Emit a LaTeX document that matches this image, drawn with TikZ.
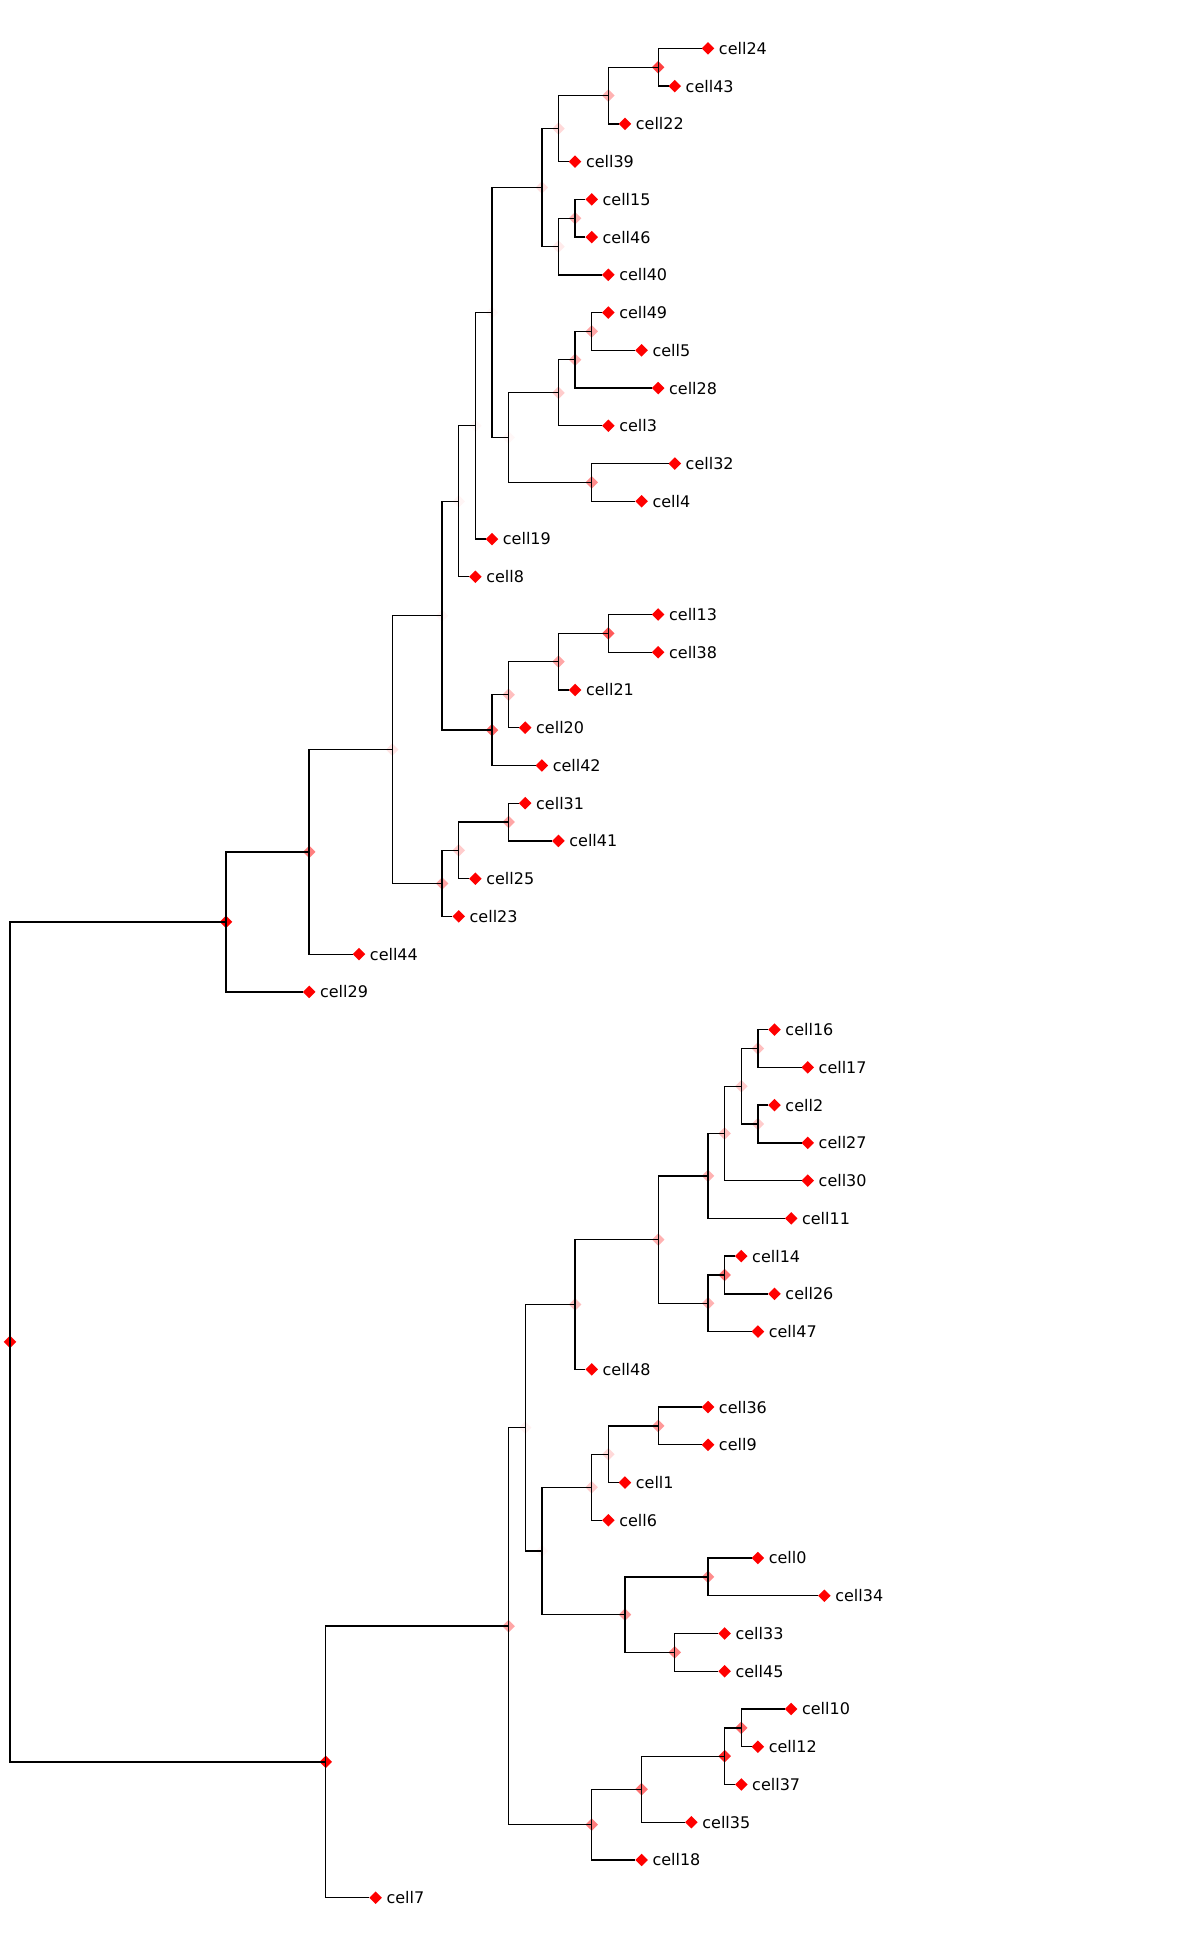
\documentclass[tikz,border=0pt]{standalone}
\usepackage{fontspec}
\setmainfont{DejaVu Sans}
\usetikzlibrary{shapes.geometric}
\tikzstyle{lf}=[diamond,fill=red,draw=none,inner sep=0pt,outer sep=0pt,
  minimum width=9.4pt,minimum height=9.4pt]
\tikzstyle{br}=[diamond,fill=red,draw=none,inner sep=0pt,outer sep=0pt,
  minimum width=9.4pt,minimum height=9.4pt]
\tikzstyle{edge}=[black,line width=1pt]
\begin{document}
\begin{tikzpicture}[x=12.465pt,y=-28.305pt,
    every label/.style={font=\fontsize{12}{14}\selectfont,inner sep=0pt,xshift=3.3pt}]
            \useasboundingbox (-0.6017,-1.2825) rectangle (70.517,50.254);
            % leaves
            \node [style=lf, label=right:cell24] (c24) at (42, 0) {};
            \node [style=lf, label=right:cell43] (c43) at (40, 1) {};
            \node [style=lf, label=right:cell22] (c22) at (37, 2) {};
            \node [style=lf, label=right:cell39] (c39) at (34, 3) {};
            \node [style=lf, label=right:cell15] (c15) at (35, 4) {};
            \node [style=lf, label=right:cell46] (c46) at (35, 5) {};
            \node [style=lf, label=right:cell40] (c40) at (36, 6) {};
            \node [style=lf, label=right:cell49] (c49) at (36, 7) {};
            \node [style=lf, label=right:cell5] (c5) at (38, 8) {};
            \node [style=lf, label=right:cell28] (c28) at (39, 9) {};
            \node [style=lf, label=right:cell3] (c3) at (36, 10) {};
            \node [style=lf, label=right:cell32] (c32) at (40, 11) {};
            \node [style=lf, label=right:cell4] (c4) at (38, 12) {};
            \node [style=lf, label=right:cell19] (c19) at (29, 13) {};
            \node [style=lf, label=right:cell8] (c8) at (28, 14) {};
            \node [style=lf, label=right:cell13] (c13) at (39, 15) {};
            \node [style=lf, label=right:cell38] (c38) at (39, 16) {};
            \node [style=lf, label=right:cell21] (c21) at (34, 17) {};
            \node [style=lf, label=right:cell20] (c20) at (31, 18) {};
            \node [style=lf, label=right:cell42] (c42) at (32, 19) {};
            \node [style=lf, label=right:cell31] (c31) at (31, 20) {};
            \node [style=lf, label=right:cell41] (c41) at (33, 21) {};
            \node [style=lf, label=right:cell25] (c25) at (28, 22) {};
            \node [style=lf, label=right:cell23] (c23) at (27, 23) {};
            \node [style=lf, label=right:cell44] (c44) at (21, 24) {};
            \node [style=lf, label=right:cell29] (c29) at (18, 25) {};
            \node [style=lf, label=right:cell16] (c16) at (46, 26) {};
            \node [style=lf, label=right:cell17] (c17) at (48, 27) {};
            \node [style=lf, label=right:cell2] (c2) at (46, 28) {};
            \node [style=lf, label=right:cell27] (c27) at (48, 29) {};
            \node [style=lf, label=right:cell30] (c30) at (48, 30) {};
            \node [style=lf, label=right:cell11] (c11) at (47, 31) {};
            \node [style=lf, label=right:cell14] (c14) at (44, 32) {};
            \node [style=lf, label=right:cell26] (c26) at (46, 33) {};
            \node [style=lf, label=right:cell47] (c47) at (45, 34) {};
            \node [style=lf, label=right:cell48] (c48) at (35, 35) {};
            \node [style=lf, label=right:cell36] (c36) at (42, 36) {};
            \node [style=lf, label=right:cell9] (c9) at (42, 37) {};
            \node [style=lf, label=right:cell1] (c1) at (37, 38) {};
            \node [style=lf, label=right:cell6] (c6) at (36, 39) {};
            \node [style=lf, label=right:cell0] (c0) at (45, 40) {};
            \node [style=lf, label=right:cell34] (c34) at (49, 41) {};
            \node [style=lf, label=right:cell33] (c33) at (43, 42) {};
            \node [style=lf, label=right:cell45] (c45) at (43, 43) {};
            \node [style=lf, label=right:cell10] (c10) at (47, 44) {};
            \node [style=lf, label=right:cell12] (c12) at (45, 45) {};
            \node [style=lf, label=right:cell37] (c37) at (44, 46) {};
            \node [style=lf, label=right:cell35] (c35) at (41, 47) {};
            \node [style=lf, label=right:cell18] (c18) at (38, 48) {};
            \node [style=lf, label=right:cell7] (c7) at (22, 49) {};
            % inner nodes, opacity = support
            \node [style=br] (root) at (0, 34.273) {};
            \node [style=br] (a) at (13, 23.145) {};
            \node [style=br, fill opacity=0.5] (a1) at (18, 21.289) {};
            \node [style=br, fill opacity=0.1] (a2) at (23, 18.578) {};
            \node [style=br, fill opacity=0.04] (a3) at (26, 15.031) {};
            \node [style=br, fill opacity=0.35] (a4) at (26, 22.125) {};
            \node [style=br, fill opacity=0.04] (a5) at (27, 12) {};
            \node [style=br, fill opacity=0.6] (a6) at (29, 18.0625) {};
            \node [style=br, fill opacity=0.03] (a7) at (28, 10) {};
            \node [style=br, fill opacity=0.03] (a8) at (29, 7) {};
            \node [style=br, fill opacity=0.12] (a9) at (32, 3.6875) {};
            \node [style=br, fill opacity=0.03] (a10) at (30, 10.3125) {};
            \node [style=br, fill opacity=0.15] (a11) at (33, 2.125) {};
            \node [style=br, fill opacity=0.08] (a12) at (33, 5.25) {};
            \node [style=br, fill opacity=0.3] (a13) at (36, 1.25) {};
            \node [style=br, fill opacity=0.75] (a14) at (39, 0.5) {};
            \node [style=br, fill opacity=0.3] (a15) at (34, 4.5) {};
            \node [style=br, fill opacity=0.2] (a16) at (33, 9.125) {};
            \node [style=br, fill opacity=0.45] (a17) at (35, 11.5) {};
            \node [style=br, fill opacity=0.3] (a18) at (34, 8.25) {};
            \node [style=br, fill opacity=0.35] (a19) at (35, 7.5) {};
            \node [style=br, fill opacity=0.25] (a20) at (30, 17.125) {};
            \node [style=br, fill opacity=0.35] (a21) at (33, 16.25) {};
            \node [style=br, fill opacity=0.65] (a22) at (36, 15.5) {};
            \node [style=br, fill opacity=0.2] (a23) at (27, 21.25) {};
            \node [style=br, fill opacity=0.35] (a24) at (30, 20.5) {};
            \node [style=br] (b) at (19, 45.402) {};
            \node [style=br, fill opacity=0.35] (b1) at (30, 41.805) {};
            \node [style=br, fill opacity=0.05] (b2) at (31, 36.547) {};
            \node [style=br, fill opacity=0.5] (b3) at (35, 47.0625) {};
            \node [style=br, fill opacity=0.25] (b4) at (34, 33.281) {};
            \node [style=br, fill opacity=0.03] (b5) at (32, 39.8125) {};
            \node [style=br, fill opacity=0.3] (b6) at (39, 31.5625) {};
            \node [style=br, fill opacity=0.3] (b7) at (42, 29.875) {};
            \node [style=br, fill opacity=0.3] (b8) at (42, 33.25) {};
            \node [style=br, fill opacity=0.25] (b9) at (43, 28.75) {};
            \node [style=br, fill opacity=0.2] (b10) at (44, 27.5) {};
            \node [style=br, fill opacity=0.25] (b11) at (45, 26.5) {};
            \node [style=br, fill opacity=0.2] (b12) at (45, 28.5) {};
            \node [style=br, fill opacity=0.55] (b13) at (43, 32.5) {};
            \node [style=br, fill opacity=0.2] (b14) at (35, 38.125) {};
            \node [style=br, fill opacity=0.4] (b15) at (37, 41.5) {};
            \node [style=br, fill opacity=0.15] (b16) at (36, 37.25) {};
            \node [style=br, fill opacity=0.4] (b17) at (39, 36.5) {};
            \node [style=br, fill opacity=0.45] (b18) at (42, 40.5) {};
            \node [style=br, fill opacity=0.5] (b19) at (40, 42.5) {};
            \node [style=br, fill opacity=0.55] (b20) at (38, 46.125) {};
            \node [style=br, fill opacity=0.85] (b21) at (43, 45.25) {};
            \node [style=br, fill opacity=0.6] (b22) at (44, 44.5) {};
            % branches
            \draw [style=edge] (root.center) |- (a.center);
            \draw [style=edge] (root.center) |- (b.center);
            \draw [style=edge] (a.center) |- (a1.center);
            \draw [style=edge] (a.center) |- (c29);
            \draw [style=edge] (a1.center) |- (a2.center);
            \draw [style=edge] (a1.center) |- (c44);
            \draw [style=edge] (a2.center) |- (a3.center);
            \draw [style=edge] (a2.center) |- (a4.center);
            \draw [style=edge] (a3.center) |- (a5.center);
            \draw [style=edge] (a3.center) |- (a6.center);
            \draw [style=edge] (a5.center) |- (a7.center);
            \draw [style=edge] (a5.center) |- (c8);
            \draw [style=edge] (a7.center) |- (a8.center);
            \draw [style=edge] (a7.center) |- (c19);
            \draw [style=edge] (a8.center) |- (a9.center);
            \draw [style=edge] (a8.center) |- (a10.center);
            \draw [style=edge] (a9.center) |- (a11.center);
            \draw [style=edge] (a9.center) |- (a12.center);
            \draw [style=edge] (a11.center) |- (a13.center);
            \draw [style=edge] (a11.center) |- (c39);
            \draw [style=edge] (a13.center) |- (a14.center);
            \draw [style=edge] (a13.center) |- (c22);
            \draw [style=edge] (a14.center) |- (c24);
            \draw [style=edge] (a14.center) |- (c43);
            \draw [style=edge] (a12.center) |- (a15.center);
            \draw [style=edge] (a12.center) |- (c40);
            \draw [style=edge] (a15.center) |- (c15);
            \draw [style=edge] (a15.center) |- (c46);
            \draw [style=edge] (a10.center) |- (a16.center);
            \draw [style=edge] (a10.center) |- (a17.center);
            \draw [style=edge] (a16.center) |- (a18.center);
            \draw [style=edge] (a16.center) |- (c3);
            \draw [style=edge] (a18.center) |- (a19.center);
            \draw [style=edge] (a18.center) |- (c28);
            \draw [style=edge] (a19.center) |- (c49);
            \draw [style=edge] (a19.center) |- (c5);
            \draw [style=edge] (a17.center) |- (c32);
            \draw [style=edge] (a17.center) |- (c4);
            \draw [style=edge] (a6.center) |- (a20.center);
            \draw [style=edge] (a6.center) |- (c42);
            \draw [style=edge] (a20.center) |- (a21.center);
            \draw [style=edge] (a20.center) |- (c20);
            \draw [style=edge] (a21.center) |- (a22.center);
            \draw [style=edge] (a21.center) |- (c21);
            \draw [style=edge] (a22.center) |- (c13);
            \draw [style=edge] (a22.center) |- (c38);
            \draw [style=edge] (a4.center) |- (a23.center);
            \draw [style=edge] (a4.center) |- (c23);
            \draw [style=edge] (a23.center) |- (a24.center);
            \draw [style=edge] (a23.center) |- (c25);
            \draw [style=edge] (a24.center) |- (c31);
            \draw [style=edge] (a24.center) |- (c41);
            \draw [style=edge] (b.center) |- (b1.center);
            \draw [style=edge] (b.center) |- (c7);
            \draw [style=edge] (b1.center) |- (b2.center);
            \draw [style=edge] (b1.center) |- (b3.center);
            \draw [style=edge] (b2.center) |- (b4.center);
            \draw [style=edge] (b2.center) |- (b5.center);
            \draw [style=edge] (b4.center) |- (b6.center);
            \draw [style=edge] (b4.center) |- (c48);
            \draw [style=edge] (b6.center) |- (b7.center);
            \draw [style=edge] (b6.center) |- (b8.center);
            \draw [style=edge] (b7.center) |- (b9.center);
            \draw [style=edge] (b7.center) |- (c11);
            \draw [style=edge] (b9.center) |- (b10.center);
            \draw [style=edge] (b9.center) |- (c30);
            \draw [style=edge] (b10.center) |- (b11.center);
            \draw [style=edge] (b10.center) |- (b12.center);
            \draw [style=edge] (b11.center) |- (c16);
            \draw [style=edge] (b11.center) |- (c17);
            \draw [style=edge] (b12.center) |- (c2);
            \draw [style=edge] (b12.center) |- (c27);
            \draw [style=edge] (b8.center) |- (b13.center);
            \draw [style=edge] (b8.center) |- (c47);
            \draw [style=edge] (b13.center) |- (c14);
            \draw [style=edge] (b13.center) |- (c26);
            \draw [style=edge] (b5.center) |- (b14.center);
            \draw [style=edge] (b5.center) |- (b15.center);
            \draw [style=edge] (b14.center) |- (b16.center);
            \draw [style=edge] (b14.center) |- (c6);
            \draw [style=edge] (b16.center) |- (b17.center);
            \draw [style=edge] (b16.center) |- (c1);
            \draw [style=edge] (b17.center) |- (c36);
            \draw [style=edge] (b17.center) |- (c9);
            \draw [style=edge] (b15.center) |- (b18.center);
            \draw [style=edge] (b15.center) |- (b19.center);
            \draw [style=edge] (b18.center) |- (c0);
            \draw [style=edge] (b18.center) |- (c34);
            \draw [style=edge] (b19.center) |- (c33);
            \draw [style=edge] (b19.center) |- (c45);
            \draw [style=edge] (b3.center) |- (b20.center);
            \draw [style=edge] (b3.center) |- (c18);
            \draw [style=edge] (b20.center) |- (b21.center);
            \draw [style=edge] (b20.center) |- (c35);
            \draw [style=edge] (b21.center) |- (b22.center);
            \draw [style=edge] (b21.center) |- (c37);
            \draw [style=edge] (b22.center) |- (c10);
            \draw [style=edge] (b22.center) |- (c12);
    \end{tikzpicture}
\end{document}
